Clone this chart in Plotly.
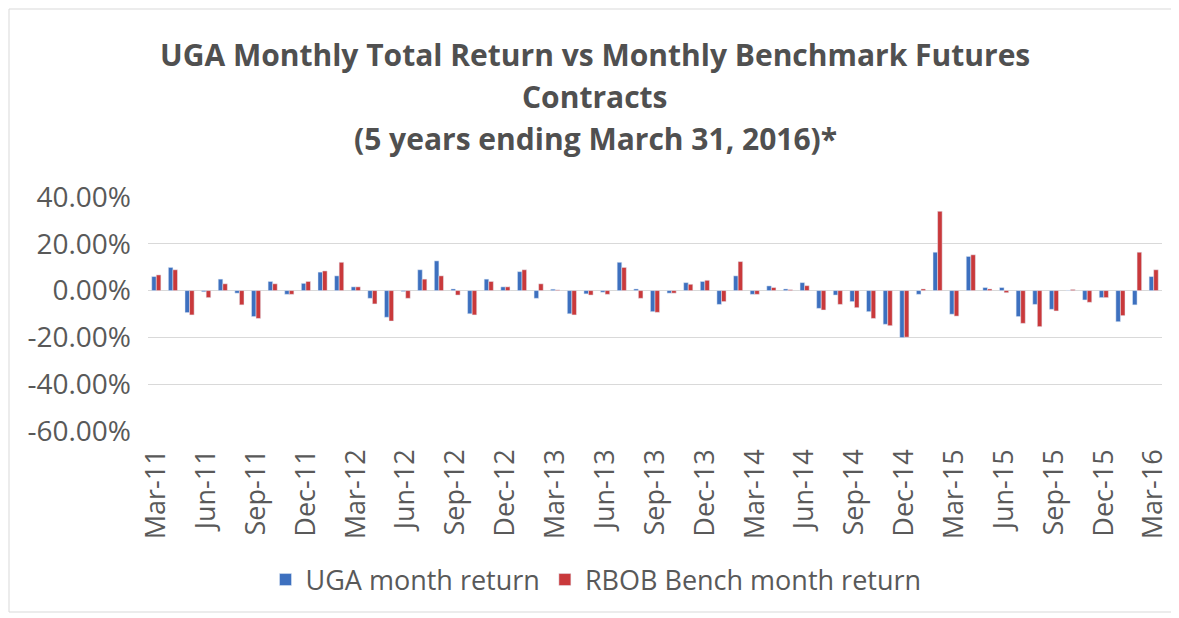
import pandas as pd
import plotly.graph_objects as go

months = list(pd.date_range("2011-03-01", "2016-03-01", freq="MS").strftime("%b-%y"))

uga = [6.0, 9.9, -9.4, -0.5, 4.9, -1.1, -11.1, 3.9, -1.6, 3.1, 7.9, 6.3,
       1.6, -3.3, -11.4, -0.4, 8.9, 12.7, 0.7, -9.9, 4.9, 1.6, 8.1, -3.3,
       0.6, -9.9, -1.4, -0.7, 12.1, 0.7, -9.0, -1.1, 3.4, 3.9, -5.9, 6.3,
       -1.6, 2.0, 0.7, 3.4, -7.6, -1.9, -4.7, -9.0, -14.4, -20.1, -1.6, 16.4,
       -10.1, 14.6, 1.3, 1.3, -11.1, -5.9, -8.0, 0.1, -4.0, -3.0, -13.3, -6.1,
       6.0]
rbob = [6.7, 8.9, -10.4, -3.0, 2.9, -6.1, -11.9, 2.9, -1.6, 3.9, 8.4, 12.1,
        1.6, -5.7, -13.0, -3.3, 4.9, 6.3, -1.9, -10.4, 3.9, 1.6, 8.9, 2.9,
        0.3, -10.4, -1.9, -1.6, 9.9, -3.3, -9.3, -1.1, 2.7, 4.4, -4.7, 12.4,
        -1.6, 1.3, 0.4, 2.1, -8.3, -5.9, -7.3, -11.9, -15.0, -19.9, 0.7, 33.9,
        -10.9, 15.3, 0.7, -0.9, -14.0, -15.4, -8.7, 0.5, -5.0, -3.0, -10.7, 16.4,
        8.9]

series_names = ["UGA month return", "RBOB Bench month return"]
y_ticks = [-60, -40, -20, 0, 20, 40]
y_tick_text = ["-60.00%", "-40.00%", "-20.00%", "0.00%", "20.00%", "40.00%"]
x_tick_vals = months[::3]
title_lines = ["UGA Monthly Total Return vs Monthly Benchmark Futures",
               "Contracts",
               "(5 years ending March 31, 2016)*"]

FONT = "Open Sans"
GRAY = "#595959"
W, H = 1179, 618
OFF = 8  # page body margin offset
# target plot area in screen pixels
SL, SR, ST, SB = 148, 1162, 197, 431
L, T = SL - OFF, ST - OFF
R, B = W - (SR - OFF), H - (SB - OFF)
pw, ph = W - L - R, H - T - B


def px_x(x):
    return (x - OFF - L) / pw


def px_y(y):
    return (H - B - (y - OFF)) / ph


fig = go.Figure()
fig.add_trace(go.Bar(x=months, y=uga, name=series_names[0], marker_color="#3d70bf"))
fig.add_trace(go.Bar(x=months, y=rbob, name=series_names[1], marker_color="#c9393b"))

annotations = []
for line, ypx in zip(title_lines, [55, 97, 138]):
    annotations.append(dict(text="<b>" + line + "</b>", x=px_x(595), y=px_y(ypx),
                            xref="paper", yref="paper", showarrow=False,
                            xanchor="center", yanchor="middle",
                            font=dict(family=FONT, size=30, color="#505050")))

fig.update_layout(
    width=W, height=H,
    margin=dict(l=L, r=R, t=T, b=B, autoexpand=False),
    paper_bgcolor="white", plot_bgcolor="white",
    barmode="group", bargap=0.45, bargroupgap=0.0,
    showlegend=True,
    legend=dict(orientation="h", x=px_x(596), y=px_y(580), xanchor="center", yanchor="middle",
                font=dict(family=FONT, size=27, color=GRAY), itemwidth=30,
                traceorder="normal"),
    annotations=annotations,
    shapes=[dict(type="rect", xref="paper", yref="paper",
                 x0=px_x(9), x1=px_x(1174), y0=px_y(612), y1=px_y(9),
                 line=dict(color="#d9d9d9", width=1), fillcolor="rgba(0,0,0,0)", layer="below")],
)

fig.update_yaxes(range=[-60, 40], tickvals=y_ticks, ticktext=y_tick_text, automargin=False,
                 showgrid=True, gridcolor="#d9d9d9", gridwidth=1,
                 zeroline=True, zerolinecolor="#d9d9d9", zerolinewidth=1,
                 showline=False, ticks="", ticklabelstandoff=16,
                 tickfont=dict(family=FONT, size=28, color=GRAY))
fig.update_xaxes(type="category", categoryorder="array", categoryarray=months, automargin=False,
                 tickmode="array", tickvals=x_tick_vals, ticktext=x_tick_vals,
                 tickangle=-90, showgrid=False, showline=False, ticks="",
                 ticklabelstandoff=12,
                 tickfont=dict(family=FONT, size=27, color=GRAY))

fig.write_html("out.html")
